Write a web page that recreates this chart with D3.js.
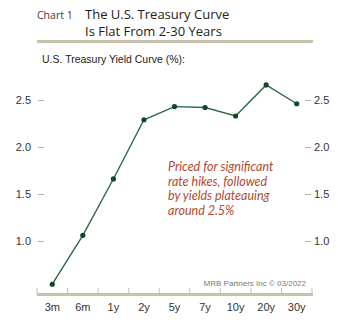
<!DOCTYPE html>
<html><head><meta charset="utf-8">
<script src="https://cdn.jsdelivr.net/npm/d3@7"></script>
<style>body{margin:0;background:#fff}svg{display:block}</style>
</head><body>
<svg id="c" width="344" height="325"></svg>
<script>
const categories = ["3m","6m","1y","2y","5y","7y","10y","20y","30y"];
const yields = [0.54, 1.06, 1.66, 2.29, 2.43, 2.42, 2.33, 2.66, 2.46];
const yTicks = [1.0, 1.5, 2.0, 2.5];
const annotation = ["Priced for significant","rate hikes, followed","by yields plateauing","around 2.5%"];

const svg = d3.select("#c");
const x = d3.scaleBand().domain(categories).range([37, 312]);
const y = d3.scaleLinear().domain([1.0, 2.5]).range([241, 100]);

// Header
svg.append("text").attr("x",37).attr("y",19).attr("font-family","Open Sans").attr("font-size",10.5)
  .attr("font-weight",500).attr("fill","#3a3a3a").text("Chart 1");
const t = svg.append("text").attr("x",85).attr("font-family","Open Sans").attr("font-size",13)
  .attr("font-weight",500).attr("fill","#222");
t.append("tspan").attr("x",85).attr("y",19).text("The U.S. Treasury Curve");
t.append("tspan").attr("x",85).attr("y",36).text("Is Flat From 2-30 Years");
svg.append("rect").attr("x",37).attr("y",40).attr("width",276).attr("height",3).attr("fill","#c9c1ad");

svg.append("text").attr("x",42).attr("y",63).attr("font-family","Liberation Sans, Arial").attr("font-size",10.5)
  .attr("fill","#222").text("U.S. Treasury Yield Curve (%):");

// Y axes
const fmt = d3.format(".1f");
const left = svg.append("g").attr("transform","translate(44,0)")
  .call(d3.axisLeft(y).tickValues(yTicks).tickFormat(fmt).tickSize(6).tickPadding(7));
const right = svg.append("g").attr("transform","translate(305,0)")
  .call(d3.axisRight(y).tickValues(yTicks).tickFormat(fmt).tickSize(6).tickPadding(3));
[left,right].forEach(g=>{
  g.select(".domain").remove();
  g.selectAll(".tick line").attr("stroke","#b5b5b5");
  g.selectAll(".tick text").attr("font-family","Liberation Sans, Arial").attr("font-size",11).attr("fill","#333");
});

// X axis
const xAxis = svg.append("g").attr("transform","translate(0,294)")
  .call(d3.axisBottom(x).tickSize(0).tickPadding(9));
xAxis.select(".domain").remove();
xAxis.selectAll(".tick text").attr("font-family","Liberation Sans, Arial").attr("font-size",11).attr("fill","#333");
const bounds = categories.map(c=>x(c));
svg.selectAll("line.xt").data(bounds).enter().append("line").attr("class","xt")
  .attr("x1",d=>d).attr("x2",d=>d).attr("y1",288).attr("y2",294)
  .attr("stroke","#c9c1ad").attr("stroke-width",1);
svg.append("line").attr("x1",312).attr("x2",312).attr("y1",288).attr("y2",294).attr("stroke","#c9c1ad");
svg.append("rect").attr("x",37).attr("y",293).attr("width",276).attr("height",3).attr("fill","#c9c1ad");

svg.append("text").attr("x",306).attr("y",285.5).attr("text-anchor","end").attr("font-family","Liberation Sans, Arial")
  .attr("font-size",8).attr("fill","#7a7a7a").text("MRB Partners Inc \u00A9 03/2022");

// Annotation
const a = svg.append("text").attr("font-family","Lato").attr("font-style","italic").attr("font-size",12.5).attr("fill","#b04a30");
annotation.forEach((s,i)=>a.append("tspan").attr("x",168).attr("y",171+i*14.7).text(s));

// Line
const cx = d => x(d) + x.bandwidth()/2;
svg.append("path").datum(yields).attr("fill","none").attr("stroke","#2a6a45").attr("stroke-width",1.4)
  .attr("d", d3.line().x((d,i)=>cx(categories[i])).y(d=>y(d)));
svg.selectAll("circle").data(yields).enter().append("circle")
  .attr("cx",(d,i)=>cx(categories[i])).attr("cy",d=>y(d)).attr("r",2.6).attr("fill","#0f4a28");
</script>
</body></html>
